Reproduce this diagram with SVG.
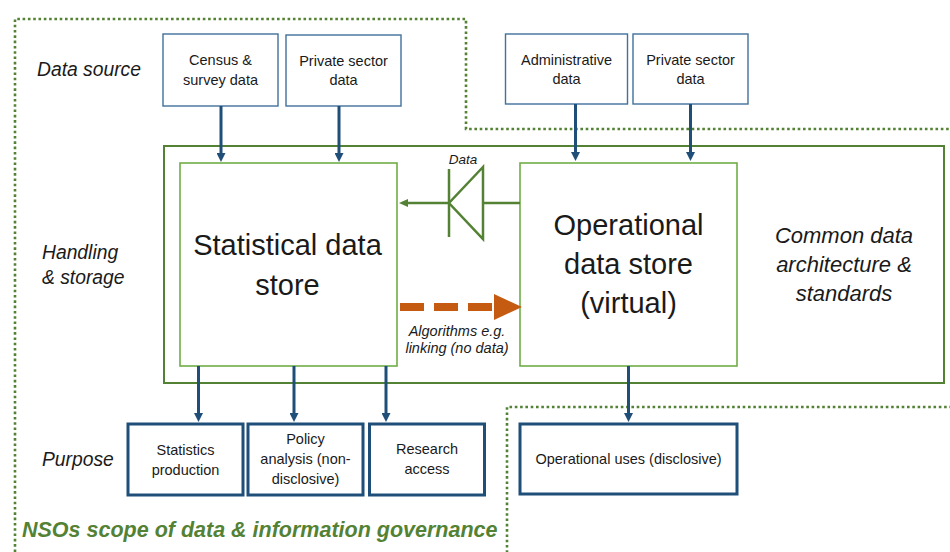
<svg xmlns="http://www.w3.org/2000/svg" width="950" height="552" viewBox="0 0 950 552">
<defs>
<style>
text{font-family:"Liberation Sans",Arial,sans-serif;fill:#1a1a1a}
.src{fill:#fff;stroke:#41719c;stroke-width:1.4}
.pur{fill:#fff;stroke:#1f4e79;stroke-width:3}
.sm{font-size:14.5px;text-anchor:middle}
.big{font-size:29px;text-anchor:middle}
.lab{font-size:19.3px;font-style:italic}
.com{font-size:22px;font-style:italic;text-anchor:middle}
.alg{font-size:14.5px;font-style:italic;text-anchor:middle}
.blu{stroke:#1f4e79;stroke-width:3;fill:none;marker-end:url(#ab)}
.dot{fill:none;stroke:#548235;stroke-width:2.6;stroke-dasharray:2.6 2.7}
.grn{fill:none;stroke:#548235;stroke-width:2.5}
</style>
<marker id="ab" viewBox="0 0 9 9" markerWidth="9" markerHeight="9" refX="3" refY="4.5" orient="auto" markerUnits="userSpaceOnUse">
<path d="M0,0 L9,4.5 L0,9 z" fill="#1f4e79"/>
</marker>
<marker id="ag" viewBox="0 0 9 8" markerWidth="9" markerHeight="8" refX="3" refY="4" orient="auto" markerUnits="userSpaceOnUse">
<path d="M0,0 L9,4 L0,8 z" fill="#548235"/>
</marker>
</defs>
<rect width="950" height="552" fill="#fff"/>

<g id="scope">
<path class="dot" d="M15,552 L15,19 L466,19 L466,129 L952,129"/>
<path class="dot" d="M952,407 L507,407 L507,552"/>
<text x="22" y="537" style="font-size:21.5px;font-weight:bold;font-style:italic;fill:#548235">NSOs scope of data &amp; information governance</text>
</g>

<g id="labels">
<text class="lab" x="37" y="76">Data source</text>
<text class="lab" x="42" y="259">Handling</text>
<text class="lab" x="42" y="284">&amp; storage</text>
<text class="lab" x="42" y="466">Purpose</text>
</g>

<g id="common">
<rect x="164" y="146" width="780" height="237" fill="none" stroke="#548235" stroke-width="2"/>
<text class="com" x="844" y="243">Common data</text>
<text class="com" x="844" y="272">architecture &amp;</text>
<text class="com" x="844" y="301">standards</text>
</g>

<g id="census">
<rect class="src" x="163" y="34" width="115" height="72"/>
<text class="sm" x="220.5" y="65">Census &amp;</text>
<text class="sm" x="220.5" y="84.5">survey data</text>
</g>
<g id="private1">
<rect class="src" x="286" y="35" width="115" height="71"/>
<text class="sm" x="343.5" y="66">Private sector</text>
<text class="sm" x="343.5" y="85">data</text>
</g>
<g id="admin">
<rect class="src" x="505.5" y="34" width="122" height="70"/>
<text class="sm" x="566.5" y="64.5">Administrative</text>
<text class="sm" x="566.5" y="83.5">data</text>
</g>
<g id="private2">
<rect class="src" x="633" y="34" width="115" height="70"/>
<text class="sm" x="690.5" y="64.5">Private sector</text>
<text class="sm" x="690.5" y="83.5">data</text>
</g>

<g id="statstore">
<rect x="180" y="163" width="217" height="203" fill="#fff" stroke="#70ad47" stroke-width="1.6"/>
<text class="big" x="287.5" y="255">Statistical data</text>
<text class="big" x="287.5" y="295">store</text>
</g>
<g id="opstore">
<rect x="520" y="163" width="217" height="203" fill="#fff" stroke="#70ad47" stroke-width="1.6"/>
<text class="big" x="628.5" y="235">Operational</text>
<text class="big" x="628.5" y="274">data store</text>
<text class="big" x="628.5" y="313">(virtual)</text>
</g>

<g id="statsprod">
<rect class="pur" x="128" y="424" width="115" height="71"/>
<text class="sm" x="185.5" y="454.5">Statistics</text>
<text class="sm" x="185.5" y="474.5">production</text>
</g>
<g id="policy">
<rect class="pur" x="248" y="424" width="115" height="71"/>
<text class="sm" x="305.5" y="444">Policy</text>
<text class="sm" x="305.5" y="464">analysis (non-</text>
<text class="sm" x="305.5" y="484">disclosive)</text>
</g>
<g id="research">
<rect class="pur" x="369.5" y="424" width="115" height="71"/>
<text class="sm" x="427" y="454">Research</text>
<text class="sm" x="427" y="474">access</text>
</g>
<g id="opuses">
<rect class="pur" x="520" y="424" width="217" height="70"/>
<text class="sm" x="628.5" y="463.5">Operational uses (disclosive)</text>
</g>

<g id="connectors">
<line class="blu" x1="221" y1="106" x2="221" y2="156"/>
<line class="blu" x1="339" y1="106" x2="339" y2="156"/>
<line class="blu" x1="575.5" y1="104" x2="575.5" y2="155"/>
<line class="blu" x1="690.5" y1="104" x2="690.5" y2="155"/>
<line class="blu" x1="198.5" y1="366" x2="198.5" y2="416"/>
<line class="blu" x1="294" y1="366" x2="294" y2="416"/>
<line class="blu" x1="386" y1="366" x2="386" y2="416"/>
<line class="blu" x1="628.5" y1="366" x2="628.5" y2="416"/>

<g id="datadiode">
<line class="grn" x1="520" y1="203" x2="483" y2="203"/>
<polygon class="grn" points="483,167 449,203 483,239"/>
<line class="grn" x1="449" y1="169" x2="449" y2="237"/>
<line class="grn" x1="449" y1="203" x2="405" y2="203" style="marker-end:url(#ag)"/>
<text x="463" y="164" style="font-size:13.5px;font-style:italic;text-anchor:middle">Data</text>
</g>

<g id="algorithms">
<line x1="400" y1="307" x2="494" y2="307" stroke="#c55a11" stroke-width="8" stroke-dasharray="24 10"/>
<polygon points="494,294 522,307 494,320" fill="#c55a11"/>
<text class="alg" x="457" y="336">Algorithms e.g.</text>
<text class="alg" x="457" y="353">linking (no data)</text>
</g>
</g>
</svg>
